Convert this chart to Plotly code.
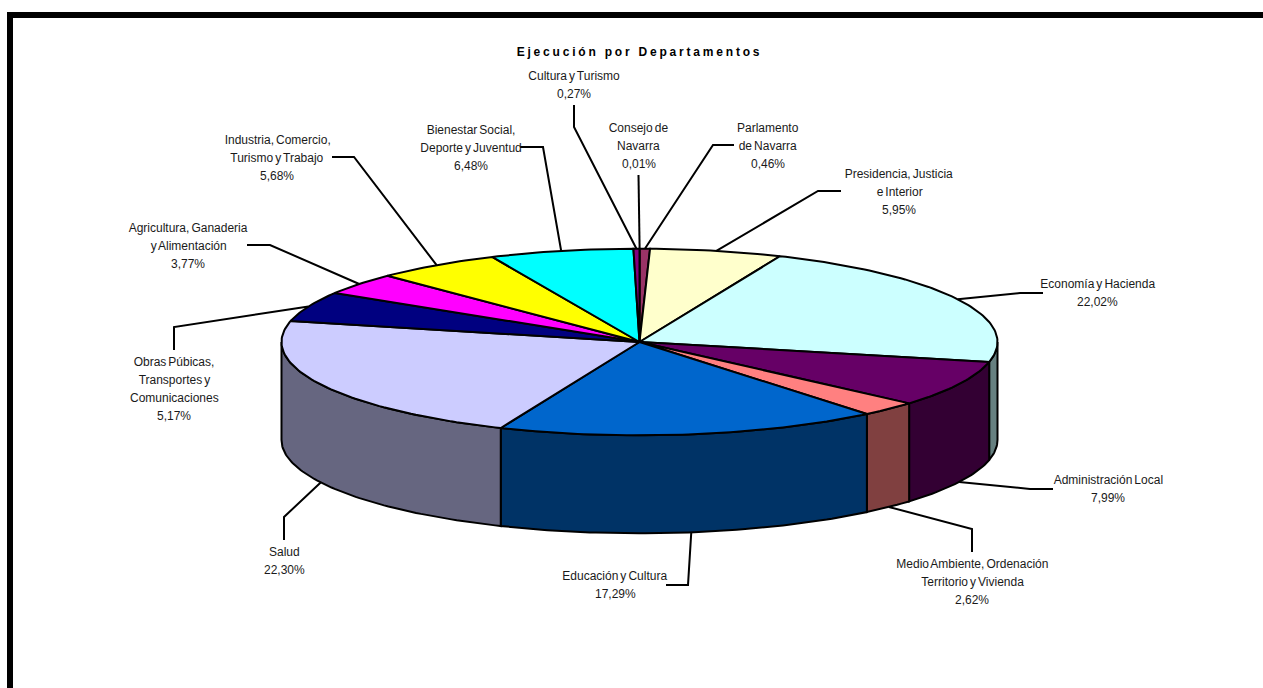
import math
import plotly.graph_objects as go

# Budget execution by department, clockwise from twelve o'clock
departments = [
    "Consejo de\nNavarra",
    "Parlamento\nde Navarra",
    "Presidencia, Justicia\ne Interior",
    "Economía y Hacienda",
    "Administración Local",
    "Medio Ambiente, Ordenación\nTerritorio y Vivienda",
    "Educación y Cultura",
    "Salud",
    "Obras Púbicas,\nTransportes y\nComunicaciones",
    "Agricultura, Ganaderia\ny Alimentación",
    "Industria, Comercio,\nTurismo y Trabajo",
    "Bienestar Social,\nDeporte y Juventud",
    "Cultura y Turismo",
]
shares = [0.01, 0.46, 5.95, 22.02, 7.99, 2.62, 17.29, 22.30, 5.17, 3.77, 5.68, 6.48, 0.27]
top_colors = ["#9999FF", "#993366", "#FFFFCC", "#CCFFFF", "#660066", "#FF8080", "#0066CC",
              "#CCCCFF", "#000080", "#FF00FF", "#FFFF00", "#00FFFF", "#800080"]
side_colors = ["#4D4D80", "#4D1933", "#808066", "#668080", "#330033", "#804040", "#003366",
               "#666680", "#000040", "#800080", "#808000", "#008080", "#400040"]

# Pie geometry in pixel-like axis units
CX, CY, RX, RY, DEPTH = 639.5, 342.0, 358.0, 93.3, 98.0
EDGE_WIDTH = 2.0
LEADER_WIDTH = 2.0
LABEL_SIZE = 12
LINE_STEP = 18

# Text block placement: centre x and y of the first line
label_xy = [(638.5, 128), (768, 128), (899, 174), (1097.5, 284), (1108, 480), (972, 564),
            (615, 576), (284, 552), (174, 362), (188, 228), (277, 140), (471, 130), (574, 76)]
# Leader line bends, listed from the text end towards the pie
leader_bends = [
    [(638.5, 175)],
    [(734, 145), (713, 145)],
    [(841, 191), (818, 191)],
    [(1043, 293), (1020, 293)],
    [(1053, 489), (1030, 489)],
    [(972, 552), (972, 529)],
    [(666, 585), (688, 585)],
    [(284, 540), (284, 517)],
    [(174, 350), (174, 327)],
    [(247, 245), (270, 245)],
    [(332, 157), (354, 157)],
    [(520, 147), (543, 147)],
    [(574, 105), (574, 127)],
]


def rim(deg, drop=0.0):
    a = math.radians(deg)
    return CX + RX * math.sin(a), CY - RY * math.cos(a) + drop


def arc(a0, a1):
    n = max(2, int(abs(a1 - a0)) + 2)
    return [a0 + (a1 - a0) * i / (n - 1) for i in range(n)]


total = sum(shares)
fig = go.Figure()

edges = []
acc = 0.0
for share in shares:
    start = acc / total * 360
    acc += share
    edges.append((start, acc / total * 360))

# Visible outer wall: only the part of the rim between 90 and 270 degrees
for (a0, a1), name, color in zip(edges, departments, side_colors):
    lo, hi = max(a0, 90), min(a1, 270)
    if lo >= hi:
        continue
    upper = [rim(a) for a in arc(lo, hi)]
    lower = [rim(a, DEPTH) for a in arc(hi, lo)]
    pts = upper + lower + [upper[0]]
    fig.add_trace(go.Scatter(x=[p[0] for p in pts], y=[p[1] for p in pts], mode="lines",
                             fill="toself", fillcolor=color,
                             line=dict(color="black", width=EDGE_WIDTH),
                             name=name.replace("\n", " "), hoverinfo="skip"))

# Top face wedges
for (a0, a1), name, color, share in zip(edges, departments, top_colors, shares):
    pts = [(CX, CY)] + [rim(a) for a in arc(a0, a1)] + [(CX, CY)]
    fig.add_trace(go.Scatter(x=[p[0] for p in pts], y=[p[1] for p in pts], mode="lines",
                             fill="toself", fillcolor=color,
                             line=dict(color="black", width=EDGE_WIDTH),
                             name=name.replace("\n", " "), hoverinfo="text",
                             text=f"{name.replace(chr(10), ' ')}: {share:.2f}%"))

# Leader lines end on the rim at each slice's middle angle
for (a0, a1), bends in zip(edges, leader_bends):
    mid = (a0 + a1) / 2
    drop = DEPTH if 90 < mid < 270 else 0.0
    pts = bends + [rim(mid, drop)]
    fig.add_trace(go.Scatter(x=[p[0] for p in pts], y=[p[1] for p in pts], mode="lines",
                             line=dict(color="black", width=LEADER_WIDTH), hoverinfo="skip"))

# Outer chart frame, running off the page on the right and at the bottom
fig.add_trace(go.Scatter(x=[10, 10, 1300], y=[720, 15, 15], mode="lines",
                         line=dict(color="black", width=6), hoverinfo="skip"))

# Labels: one annotation per text line for the wide line spacing
annotations = []
for name, share, (lx, ly) in zip(departments, shares, label_xy):
    pct = f"{share:.2f}".replace(".", ",") + "%"
    for i, line in enumerate(name.split("\n") + [pct]):
        annotations.append(dict(x=lx, y=ly + i * LINE_STEP, xref="x", yref="y", text=line,
                                showarrow=False, xanchor="center", yanchor="middle",
                                font=dict(family="Liberation Sans", size=LABEL_SIZE, color="#1a1a1a")))

fig.update_layout(
    width=1263, height=688, margin=dict(l=0, r=0, t=0, b=0),
    paper_bgcolor="white", plot_bgcolor="white", showlegend=False,
    title=dict(text="<b>Ejecución por Departamentos</b>", x=639.5 / 1263, y=1 - 51.7 / 688,
               xref="paper", yref="paper", xanchor="center", yanchor="middle",
               font=dict(family="Liberation Sans", size=12, color="black")),
    xaxis=dict(range=[0, 1263], visible=False, fixedrange=True),
    yaxis=dict(range=[688, 0], visible=False, fixedrange=True),
    annotations=annotations,
)

fig.write_html(
    "out.html",
    post_script=(
        "document.querySelectorAll('.gtitle').forEach(function(t){t.style.letterSpacing='2.8px';});"
        "document.querySelectorAll('.annotation-text').forEach(function(t){t.style.wordSpacing='-1.3px';});"
    ),
)
